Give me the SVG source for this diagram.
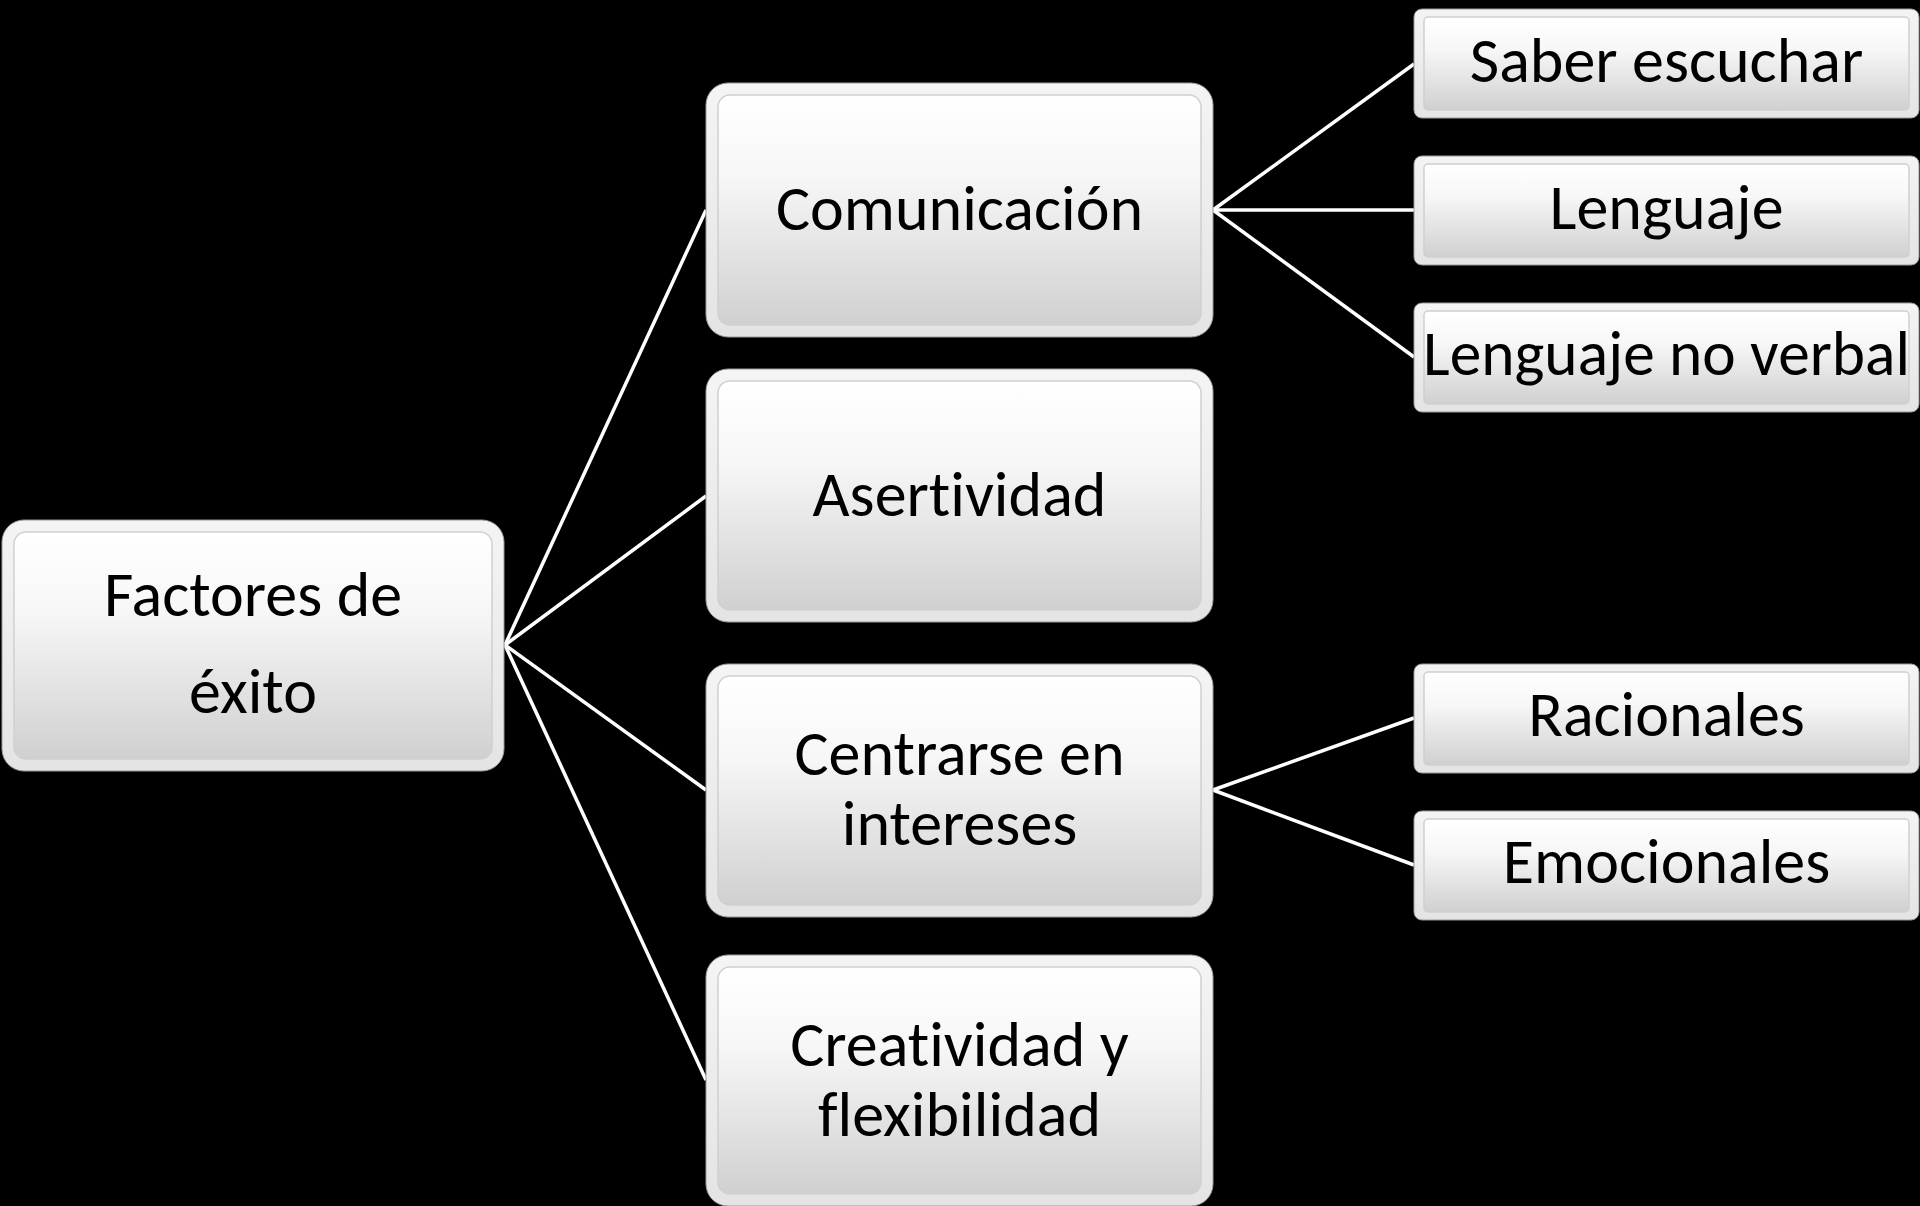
<svg xmlns="http://www.w3.org/2000/svg" width="1920" height="1206" viewBox="0 0 1920 1206">
<defs>
<linearGradient id="face" x1="0" y1="0" x2="0" y2="1">
<stop offset="0" stop-color="#ffffff"/>
<stop offset="0.35" stop-color="#f7f7f7"/>
<stop offset="1" stop-color="#d0d0d0"/>
</linearGradient>
<linearGradient id="rim" x1="0" y1="0" x2="0" y2="1">
<stop offset="0" stop-color="#f4f4f4"/>
<stop offset="1" stop-color="#e4e4e4"/>
</linearGradient>
</defs>
<style>
.rim{fill:url(#rim);stroke:#9a9a9a;stroke-width:1}
.face{fill:url(#face);stroke:#d0d0d0;stroke-width:1.5}
.t{font-family:Carlito,Lato,"Liberation Sans",sans-serif;font-size:64px;fill:#000;text-anchor:middle;font-variant-ligatures:none}
.c{stroke:#ffffff;stroke-width:3.5;fill:none}
</style>
<rect width="1920" height="1206" fill="#000"/>
<g id="connectors">
<line class="c" x1="505" y1="645" x2="706" y2="210"/>
<line class="c" x1="505" y1="645" x2="706" y2="496"/>
<line class="c" x1="505" y1="645" x2="706" y2="790"/>
<line class="c" x1="505" y1="645" x2="706" y2="1080"/>
<line class="c" x1="1213" y1="210" x2="1414" y2="64"/>
<line class="c" x1="1213" y1="210" x2="1414" y2="210"/>
<line class="c" x1="1213" y1="210" x2="1414" y2="357"/>
<line class="c" x1="1213" y1="790" x2="1414" y2="718"/>
<line class="c" x1="1213" y1="790" x2="1414" y2="865"/>
</g>
<g id="root">
<rect class="rim" x="2" y="520" width="502" height="251" rx="22"/>
<rect class="face" x="14" y="532" width="478" height="227" rx="12"/>
<text class="t" x="253" y="616">Factores de</text>
<text class="t" x="253" y="713">éxito</text>
</g>
<g id="comunicacion">
<rect class="rim" x="706" y="83" width="507" height="254" rx="22"/>
<rect class="face" x="718" y="95" width="483" height="230" rx="12"/>
<text class="t" x="959.5" y="230">Comunicación</text>
</g>
<g id="asertividad">
<rect class="rim" x="706" y="369" width="507" height="253" rx="22"/>
<rect class="face" x="718" y="381" width="483" height="229" rx="12"/>
<text class="t" x="959.5" y="516">Asertividad</text>
</g>
<g id="centrarse">
<rect class="rim" x="706" y="664" width="507" height="253" rx="22"/>
<rect class="face" x="718" y="676" width="483" height="229" rx="12"/>
<text class="t" x="959.5" y="775">Centrarse en</text>
<text class="t" x="959.5" y="845">intereses</text>
</g>
<g id="creatividad">
<rect class="rim" x="706" y="955" width="507" height="251" rx="22"/>
<rect class="face" x="718" y="967" width="483" height="227" rx="12"/>
<text class="t" x="959.5" y="1066">Creatividad y</text>
<text class="t" x="959.5" y="1136">flexibilidad</text>
</g>
<g id="saber-escuchar">
<rect class="rim" x="1414" y="9" width="505" height="109" rx="8"/>
<rect class="face" x="1424" y="17" width="485" height="93" rx="4"/>
<text class="t" x="1666.5" y="82">Saber escuchar</text>
</g>
<g id="lenguaje">
<rect class="rim" x="1414" y="156" width="505" height="109" rx="8"/>
<rect class="face" x="1424" y="164" width="485" height="93" rx="4"/>
<text class="t" x="1666.5" y="229">Lenguaje</text>
</g>
<g id="lenguaje-no-verbal">
<rect class="rim" x="1414" y="303" width="505" height="109" rx="8"/>
<rect class="face" x="1424" y="311" width="485" height="93" rx="4"/>
<text class="t" x="1666.5" y="375" textLength="487" lengthAdjust="spacingAndGlyphs">Lenguaje no verbal</text>
</g>
<g id="racionales">
<rect class="rim" x="1414" y="664" width="505" height="109" rx="8"/>
<rect class="face" x="1424" y="672" width="485" height="93" rx="4"/>
<text class="t" x="1666.5" y="736">Racionales</text>
</g>
<g id="emocionales">
<rect class="rim" x="1414" y="811" width="505" height="109" rx="8"/>
<rect class="face" x="1424" y="819" width="485" height="93" rx="4"/>
<text class="t" x="1666.5" y="883">Emocionales</text>
</g>
</svg>
